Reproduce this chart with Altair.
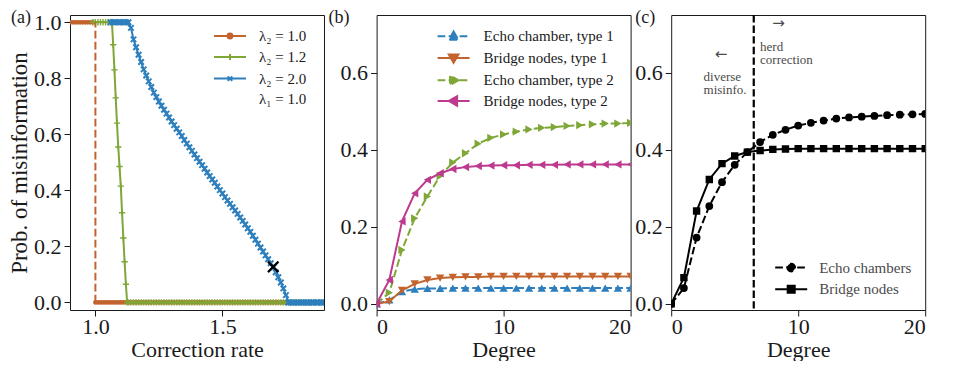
import altair as alt
import pandas as pd

FONT = "'Liberation Serif', 'DejaVu Serif', 'Times New Roman', serif"
INK = "#1a1a1a"
BLUE = "#2d7fbd"
ORANGE = "#c3632d"
GREEN = "#7fa737"
PINK = "#bd3a8f"

PANEL_LABELS = ["(a)", "(b)", "(c)"]


def grid(start, stop, step):
    n = int(round((stop - start) / step)) + 1
    return [round(start + i * step, 4) for i in range(n)]


# ---------------- panel (a): probability vs correction rate ----------------
A_NAMES = ["λ₂ = 1.0", "λ₂ = 1.2", "λ₂ = 2.0"]
A_NOTE = "λ₁ = 1.0"
A_THRESHOLD = [1.0]

# lambda2 = 1.0 (jumps at the threshold)
A1_X_HIGH = grid(0.90, 0.99, 0.01)
A1_Y_HIGH = [1.0] * len(A1_X_HIGH)
A1_X_LOW = grid(1.00, 1.90, 0.01)
A1_Y_LOW = [0.0] * len(A1_X_LOW)

# lambda2 = 1.2
A2_X_FLAT1 = grid(0.99, 1.06, 0.01)
A2_X_DROP = grid(1.065, 1.125, 0.005)
A2_Y_DROP = [1.0, 0.92, 0.83, 0.73, 0.64, 0.555, 0.485, 0.415, 0.32, 0.23, 0.145, 0.065, 0.0]
A2_X_FLAT0 = grid(1.13, 1.90, 0.01)

# lambda2 = 2.0
A3_X_FLAT1 = grid(1.06, 1.13, 0.01)
A3_X_SLOPE = grid(1.14, 1.75, 0.01)
A3_Y_SLOPE = [0.980, 0.939, 0.911, 0.884, 0.858, 0.832, 0.810, 0.789, 0.769, 0.749,
              0.733, 0.717, 0.702, 0.688, 0.674, 0.660, 0.646, 0.633, 0.620, 0.607,
              0.594, 0.580, 0.567, 0.554, 0.541, 0.528, 0.515, 0.502, 0.490, 0.477,
              0.464, 0.451, 0.439, 0.427, 0.414, 0.401, 0.389, 0.376, 0.364, 0.352,
              0.340, 0.328, 0.316, 0.303, 0.291, 0.278, 0.265, 0.252, 0.238, 0.224,
              0.210, 0.196, 0.182, 0.168, 0.154, 0.140, 0.125, 0.108, 0.090, 0.071,
              0.050, 0.026]
A3_X_FLAT0 = grid(1.76, 1.90, 0.01)

A_MARK_X = [1.70]
A_MARK_Y = [0.127]

# ---------------- panel (b) ----------------
DEGREE = list(range(0, 21))
B_NAMES = ["Echo chamber, type 1", "Bridge nodes, type 1",
           "Echo chamber, type 2", "Bridge nodes, type 2"]
B_ECHO1 = [0.0, 0.010, 0.032, 0.038, 0.040, 0.040, 0.041, 0.041, 0.041, 0.041, 0.041,
           0.041, 0.041, 0.041, 0.041, 0.041, 0.041, 0.041, 0.041, 0.041, 0.041]
B_BRIDGE1 = [0.0, 0.006, 0.035, 0.052, 0.062, 0.067, 0.069, 0.070, 0.070, 0.071, 0.071,
             0.071, 0.071, 0.071, 0.071, 0.071, 0.071, 0.071, 0.071, 0.071, 0.071]
B_ECHO2 = [0.0, 0.029, 0.140, 0.222, 0.279, 0.332, 0.367, 0.391, 0.416, 0.431, 0.440,
           0.447, 0.453, 0.457, 0.459, 0.462, 0.464, 0.466, 0.468, 0.468, 0.470]
B_BRIDGE2 = [0.0, 0.062, 0.214, 0.287, 0.322, 0.339, 0.350, 0.355, 0.358, 0.359, 0.360,
             0.360, 0.361, 0.361, 0.361, 0.362, 0.362, 0.362, 0.362, 0.362, 0.362]

# ---------------- panel (c) ----------------
C_NAMES = ["Echo chambers", "Bridge nodes"]
C_ECHO = [0.0, 0.041, 0.172, 0.254, 0.316, 0.361, 0.394, 0.420, 0.439, 0.452, 0.463,
          0.470, 0.476, 0.481, 0.484, 0.486, 0.488, 0.490, 0.491, 0.492, 0.493]
C_BRIDGE = [0.0, 0.068, 0.241, 0.323, 0.364, 0.384, 0.394, 0.398, 0.401, 0.402, 0.403,
            0.403, 0.403, 0.403, 0.403, 0.403, 0.403, 0.403, 0.403, 0.403, 0.403]
C_SPLIT = [6.5]
C_NOTE_TEXT = ["herd\ncorrection", "diverse\nmisinfo."]
C_NOTE_X = [7.0, 2.55]
C_NOTE_Y = [0.667, 0.590]
C_ARROW_TEXT = ["→", "←"]
C_ARROW_X = [8.45, 3.93]
C_ARROW_Y = [0.728, 0.650]

# ---------------- styling helpers ----------------
DASH = [7.7, 3.3]
W, H = 254, 295
FS = 22

# legend symbols: a line segment plus the marker (unit square -1..1)
SYM_TRI_UP = "M-1,0L1,0M0,-0.3L0.3,0.22L-0.3,0.22Z"
SYM_TRI_DOWN = "M-1,0L1,0M0,0.3L0.3,-0.22L-0.3,-0.22Z"
SYM_TRI_RIGHT = "M-1,0L1,0M0.3,0L-0.22,0.3L-0.22,-0.3Z"
SYM_TRI_LEFT = "M-1,0L1,0M-0.3,0L0.22,0.3L0.22,-0.3Z"
SYM_CIRCLE = "M-1,0L1,0M-0.24,0A0.24,0.24 0 1,0 0.24,0A0.24,0.24 0 1,0 -0.24,0Z"
SYM_SQUARE = "M-1,0L1,0M-0.22,-0.22L0.22,-0.22L0.22,0.22L-0.22,0.22Z"
SYM_DOT = "M-1,0L1,0M-0.15,0A0.15,0.15 0 1,0 0.15,0A0.15,0.15 0 1,0 -0.15,0Z"
SYM_PLUS = "M-1,0L1,0M0,-0.18L0,0.18"
SYM_X = "M-1,0L1,0M-0.14,-0.14L0.14,0.14M-0.14,0.14L0.14,-0.14"
PLUS = "M-1,0L1,0M0,-1L0,1"
XSHAPE = "M-1,-1L1,1M-1,1L1,-1"


def legend(x, y, symbol, fill, dash=None, offset=12, color=INK, hide=False):
    kw = dict(title=None, orient="none", legendX=x, legendY=y, symbolType=symbol,
              symbolSize=1024, symbolStrokeWidth=2, symbolFillColor=fill,
              symbolStrokeColor=fill,
              labelFont=FONT, labelFontSize=15, labelColor=color, labelOffset=offset,
              padding=0, labelLimit=400)
    if dash:
        kw["symbolDash"] = dash
    if hide:
        kw["symbolOpacity"] = 0
    return alt.Legend(**kw)


def series(df, name, color, xenc, yenc, leg, point_kw, dash=None, detail=False):
    base = alt.Chart(df)
    lkw = dict(clip=True, strokeWidth=2)
    if dash:
        lkw["strokeDash"] = dash
    enc = dict(x=xenc, y=yenc,
               color=alt.Color("series:N", scale=alt.Scale(domain=[name], range=[color]),
                               legend=leg))
    if detail:
        enc["detail"] = "seg:N"
    line = base.mark_line(**lkw).encode(**enc)
    pts = base.mark_point(clip=True, opacity=1, color=color, **point_kw).encode(x=xenc, y=yenc)
    return alt.layer(line, pts)


def panel_label(i, dx, dy):
    return alt.Chart(pd.DataFrame({"t": [PANEL_LABELS[i]]})).mark_text(
        align="left", baseline="alphabetic", font=FONT, fontSize=18, color=INK
    ).encode(text="t:N", x=alt.value(dx), y=alt.value(dy))


# ---------------- panel (a) ----------------
XA = alt.X("x:Q", scale=alt.Scale(domain=[0.9, 1.9], nice=False, zero=False),
           axis=alt.Axis(values=[1.0, 1.5], format=".1f", title="Correction rate"))
YA = alt.Y("y:Q", scale=alt.Scale(domain=[-0.027, 1.026], nice=False, zero=False),
           axis=alt.Axis(values=[0, 0.2, 0.4, 0.6, 0.8, 1.0], format=".1f",
                         title="Prob. of misinformation"))

df_a1 = pd.DataFrame({"x": A1_X_HIGH + A1_X_LOW, "y": A1_Y_HIGH + A1_Y_LOW,
                      "seg": [0] * len(A1_X_HIGH) + [1] * len(A1_X_LOW), "series": A_NAMES[0]})
df_a2 = pd.DataFrame({"x": A2_X_FLAT1 + A2_X_DROP + A2_X_FLAT0,
                      "y": [1.0] * len(A2_X_FLAT1) + A2_Y_DROP + [0.0] * len(A2_X_FLAT0),
                      "series": A_NAMES[1]})
df_a3 = pd.DataFrame({"x": A3_X_FLAT1 + A3_X_SLOPE + A3_X_FLAT0,
                      "y": [1.0] * len(A3_X_FLAT1) + A3_Y_SLOPE + [0.0] * len(A3_X_FLAT0),
                      "series": A_NAMES[2]})
df_rule = pd.DataFrame({"x": A_THRESHOLD, "y": [0.0], "y2": [1.0], "series": [A_NOTE]})
df_mark = pd.DataFrame({"x": A_MARK_X, "y": A_MARK_Y})

la1 = series(df_a1, A_NAMES[0], ORANGE, XA, YA, legend(143, 4, SYM_DOT, ORANGE),
             dict(shape="circle", filled=True, size=22), detail=True)
la2 = series(df_a2, A_NAMES[1], GREEN, XA, YA, legend(143, 25, SYM_PLUS, GREEN),
             dict(shape=PLUS, filled=False, size=40, strokeWidth=1.4))
la3 = series(df_a3, A_NAMES[2], BLUE, XA, YA, legend(143, 46.6, SYM_X, BLUE),
             dict(shape=XSHAPE, filled=False, size=30, strokeWidth=2))
rule_a = alt.Chart(df_rule).mark_rule(strokeDash=DASH, strokeWidth=2).encode(
    x=XA, y=YA, y2="y2:Q",
    color=alt.Color("series:N", scale=alt.Scale(domain=[A_NOTE], range=[ORANGE]),
                    legend=legend(143, 66.6, SYM_X, ORANGE, hide=True)))
mark_a = alt.Chart(df_mark).mark_point(shape=XSHAPE, filled=False, size=110, strokeWidth=2.2,
                                       color="black", opacity=1).encode(x=XA, y=YA)

pa = alt.layer(la1, la2, la3, rule_a, mark_a, panel_label(0, -59, 7.5)).resolve_scale(
    color="independent").properties(width=W, height=H)

# ---------------- panel (b) ----------------
XB = alt.X("x:Q", scale=alt.Scale(domain=[0, 20], nice=False, zero=False),
           axis=alt.Axis(values=[0, 10, 20], format="d", title="Degree"))
YB = alt.Y("y:Q", scale=alt.Scale(domain=[-0.016, 0.75], nice=False, zero=False),
           axis=alt.Axis(values=[0, 0.2, 0.4, 0.6], format=".1f", title=None))


def deg_df(vals, name):
    return pd.DataFrame({"x": DEGREE, "y": vals, "series": name})


lb1 = series(deg_df(B_ECHO1, B_NAMES[0]), B_NAMES[0], BLUE, XB, YB,
             legend(60, 4.3, SYM_TRI_UP, BLUE, dash=DASH, offset=13),
             dict(shape="triangle-up", filled=True, size=70), dash=DASH)
lb2 = series(deg_df(B_BRIDGE1, B_NAMES[1]), B_NAMES[1], ORANGE, XB, YB,
             legend(60, 26, SYM_TRI_DOWN, ORANGE, offset=13),
             dict(shape="triangle-down", filled=True, size=70))
lb3 = series(deg_df(B_ECHO2, B_NAMES[2]), B_NAMES[2], GREEN, XB, YB,
             legend(60, 48.3, SYM_TRI_RIGHT, GREEN, dash=DASH, offset=13),
             dict(shape="triangle-right", filled=True, size=70), dash=DASH)
lb4 = series(deg_df(B_BRIDGE2, B_NAMES[3]), B_NAMES[3], PINK, XB, YB,
             legend(60, 69, SYM_TRI_LEFT, PINK, offset=13),
             dict(shape="triangle-left", filled=True, size=70))

pb = alt.layer(lb1, lb2, lb3, lb4, panel_label(1, -48, 7.5)).resolve_scale(
    color="independent").properties(width=W, height=H)

# ---------------- panel (c) ----------------
GREY = "#4a4a4a"
lc1 = series(deg_df(C_ECHO, C_NAMES[0]), C_NAMES[0], "black", XB, YB,
             legend(103, 235.6, SYM_CIRCLE, "black", dash=DASH, offset=11, color=GREY),
             dict(shape="circle", filled=True, size=60), dash=DASH)
lc2 = series(deg_df(C_BRIDGE, C_NAMES[1]), C_NAMES[1], "black", XB, YB,
             legend(103, 257.3, SYM_SQUARE, "black", offset=11, color=GREY),
             dict(shape="square", filled=True, size=55))
split_c = alt.Chart(pd.DataFrame({"x": C_SPLIT})).mark_rule(
    strokeDash=[7.4, 3.2], strokeWidth=2.2, color="black").encode(x=XB)
notes_c = alt.Chart(pd.DataFrame({"x": C_NOTE_X, "y": C_NOTE_Y, "t": C_NOTE_TEXT})).mark_text(
    align="left", baseline="middle", font=FONT, fontSize=13, color=GREY,
    lineBreak="\n", lineHeight=13.5
).encode(x=XB, y=YB, text="t:N")
arrows_c = alt.Chart(pd.DataFrame({"x": C_ARROW_X, "y": C_ARROW_Y, "t": C_ARROW_TEXT})).mark_text(
    align="center", baseline="middle", font="DejaVu Sans", fontSize=15, color=GREY
).encode(x=XB, y=YB, text="t:N")

pc = alt.layer(lc1, lc2, split_c, notes_c, arrows_c, panel_label(2, -36, 7.5)).resolve_scale(
    color="independent").properties(width=W, height=H)

chart = alt.hconcat(pa, pb, pc, spacing=2.6).properties(
    padding={"left": 0, "top": 0, "right": 0, "bottom": 0}
).configure_view(stroke=INK, strokeWidth=1).configure_axis(
    grid=False, domain=False, ticks=True, tickColor=INK, tickSize=6, tickWidth=1,
    labelFont=FONT, labelFontSize=FS, labelColor=INK,
    titleFont=FONT, titleFontSize=FS, titleFontWeight="normal", titleColor=INK
).configure_axisX(labelPadding=0, titlePadding=2).configure_axisY(
    labelPadding=3, titlePadding=2, titleFontSize=23)

chart.save("out.html", embed_options={"renderer": "svg", "actions": False})
